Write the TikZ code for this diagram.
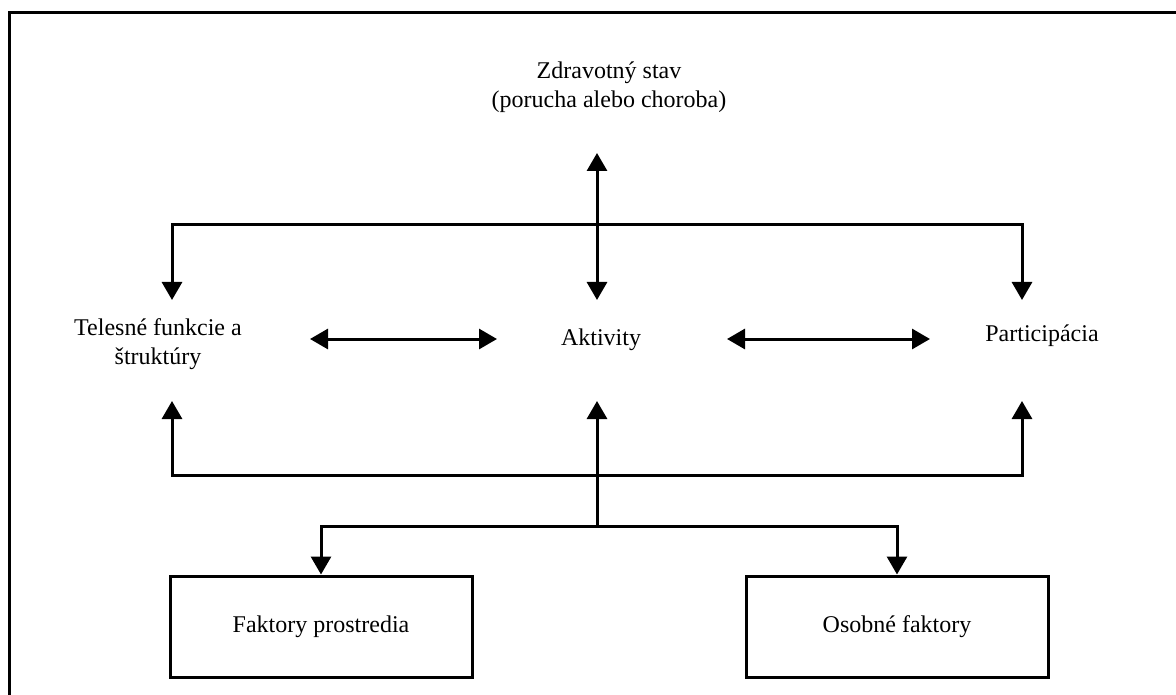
\documentclass[tikz,border=0pt]{standalone}
\usepackage{fontspec}
\setmainfont{Liberation Serif}
\usepackage{tikz}
\usetikzlibrary{arrows.meta, positioning, calc}

\begin{document}
\begin{tikzpicture}[
    x=1pt, y=-1pt,
    label/.style={font=\fontsize{24}{29.5}\selectfont, align=center, inner sep=0pt},
    factor/.style={rectangle, draw, line width=3pt, minimum width=302pt,
                   minimum height=101pt, inner sep=0pt,
                   font=\fontsize{24}{29.5}\selectfont},
    arrow/.style={-{Triangle[length=18pt, width=20pt]}, line width=3pt},
    dblarrow/.style={{Triangle[length=18pt, width=20pt]}-{Triangle[length=18pt, width=20pt]}, line width=3pt},
    link/.style={line width=3pt}
]
    \useasboundingbox (0,0) rectangle (1176,695);
    % Frame
    \draw[line width=3pt] (9,705) -- (9,13) -- (1186,13);

    % Nodes
    \node[label] (health) at (609,87) {Zdravotný stav\\(porucha alebo choroba)};
    \node[label] (body) at (158,344) {Telesné funkcie a\\štruktúry};
    \node[label] (activ) at (601,340) {Aktivity};
    \node[label] (partic) at (1042,336) {Participácia};
    \node[factor] (envf) at (321,626.5) {Faktory prostredia};
    \node[factor] (persf) at (897,626.5) {Osobné faktory};

    % Junctions
    \coordinate (healthtip) at (597,153);
    \coordinate (activtop) at (597,300);
    \coordinate (topleft) at (172,225);
    \coordinate (topright) at (1022,225);
    \coordinate (bodytop) at (172,300);
    \coordinate (partictop) at (1022,300);
    \coordinate (bodyright) at (310,339);
    \coordinate (activleft) at (497,339);
    \coordinate (activright) at (727,339);
    \coordinate (particleft) at (930,339);
    \coordinate (bodybot) at (172,401);
    \coordinate (activbot) at (597,401);
    \coordinate (particbot) at (1022,401);
    \coordinate (botleft) at (172,475);
    \coordinate (botright) at (1022,475);
    \coordinate (factmid) at (597,526);
    \coordinate (factleft) at (321,526);
    \coordinate (factright) at (897,526);

    % Arrows
    \draw[dblarrow] (healthtip) -- (activtop);
    \draw[dblarrow] (bodytop) -- (topleft) -- (topright) -- (partictop);
    \draw[dblarrow] (bodyright) -- (activleft);
    \draw[dblarrow] (activright) -- (particleft);
    \draw[dblarrow] (bodybot) -- (botleft) -- (botright) -- (particbot);
    \draw[arrow] (factmid) -- (activbot);
    \draw[dblarrow] (envf) -- (factleft) -- (factright) -- (persf);
\end{tikzpicture}
\end{document}
